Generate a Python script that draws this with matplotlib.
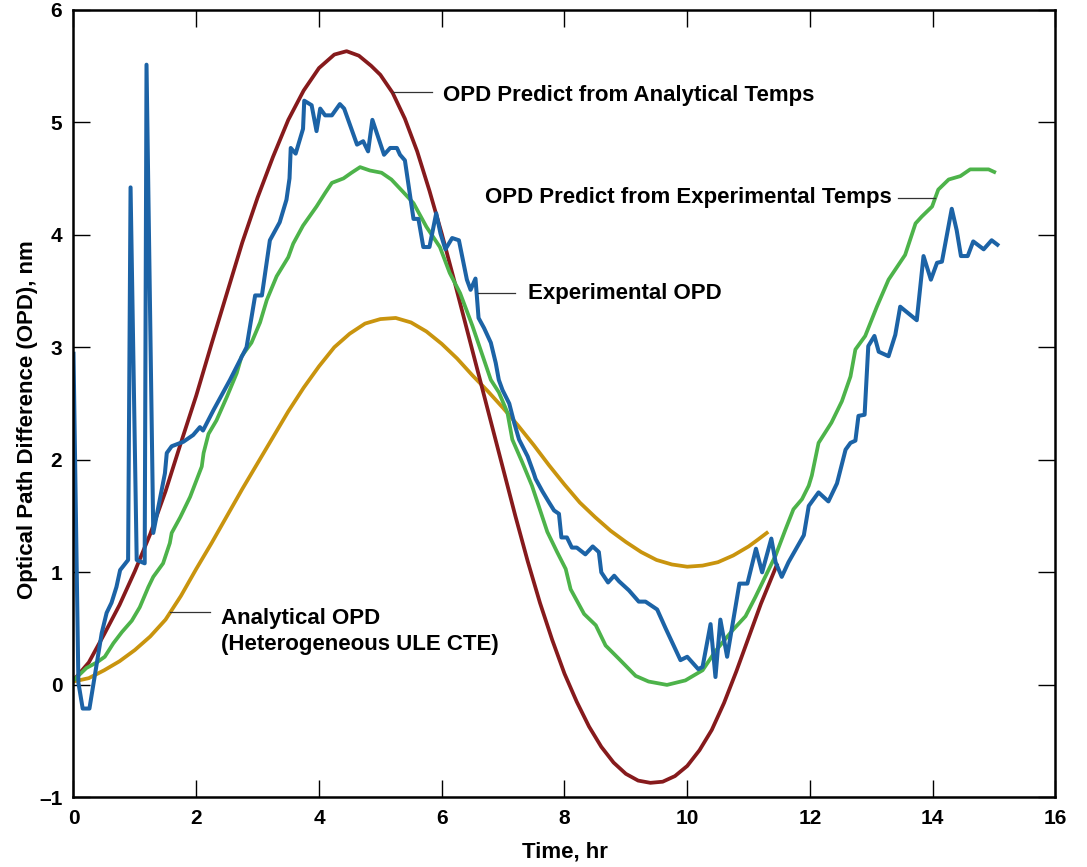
import matplotlib
matplotlib.use("Agg")
import matplotlib.pyplot as plt

plt.rcParams["font.family"] = ["Liberation Sans", "DejaVu Sans"]
plt.rcParams["font.weight"] = "bold"

BLUE = "#1c63a6"
GREEN = "#4db34a"
RED = "#861a1c"
GOLD = "#c9940e"

# Experimental OPD (measured)
exp_t = [0.0, 0.08, 0.15, 0.26, 0.46, 0.54, 0.62, 0.7, 0.76, 0.89, 0.93, 1.03, 1.16, 1.19, 1.30,
         1.49, 1.52, 1.6, 1.79, 1.95, 2.06, 2.11, 2.28, 2.55, 2.82, 2.96, 3.07, 3.2, 3.36, 3.47,
         3.52, 3.54, 3.62, 3.74, 3.76, 3.88, 3.96, 4.02, 4.1, 4.21, 4.34, 4.41, 4.62, 4.72,
         4.8, 4.87, 5.06, 5.16, 5.27, 5.32, 5.4, 5.54, 5.62, 5.7, 5.8, 5.91, 5.98, 6.06,
         6.17, 6.28, 6.41, 6.47, 6.55, 6.6, 6.69, 6.8, 6.88, 6.93, 6.99, 7.1, 7.18, 7.26,
         7.4, 7.5, 7.53, 7.64, 7.75, 7.83, 7.91, 7.95, 8.04, 8.12, 8.2, 8.34, 8.46, 8.56,
         8.6, 8.71, 8.81, 8.89, 8.97, 9.05, 9.21, 9.32, 9.51, 9.65, 9.89, 10.0, 10.18, 10.25,
         10.38, 10.46, 10.54, 10.65, 10.85, 10.98, 11.12, 11.22, 11.37, 11.44, 11.54, 11.65,
         11.9, 11.98, 12.14, 12.3, 12.44, 12.58, 12.66, 12.74, 12.79, 12.89, 12.95, 13.05,
         13.12, 13.28, 13.39, 13.47, 13.74, 13.85, 13.97, 14.07, 14.15, 14.31, 14.39, 14.46,
         14.57, 14.66, 14.83, 14.96, 15.08]
exp_opd = [2.96, 0.02, -0.21, -0.21, 0.46, 0.64, 0.73, 0.87, 1.02, 1.11, 4.42, 1.11, 1.08, 5.51, 1.35,
           1.88, 2.06, 2.12, 2.16, 2.22, 2.29, 2.26, 2.44, 2.71, 3.0, 3.46, 3.46, 3.95, 4.11, 4.31,
           4.5, 4.77, 4.72, 4.94, 5.19, 5.15, 4.92, 5.12, 5.06, 5.06, 5.16, 5.12, 4.8, 4.83,
           4.74, 5.02, 4.71, 4.77, 4.77, 4.71, 4.66, 4.14, 4.14, 3.89, 3.89, 4.19, 4.01, 3.87,
           3.97, 3.95, 3.6, 3.51, 3.61, 3.26, 3.17, 3.04, 2.86, 2.71, 2.62, 2.5, 2.33, 2.18,
           2.03, 1.88, 1.83, 1.72, 1.62, 1.55, 1.52, 1.31, 1.31, 1.22, 1.22, 1.16, 1.23, 1.18,
           1.0, 0.91, 0.97, 0.92, 0.88, 0.84, 0.74, 0.74, 0.67, 0.5, 0.22, 0.25, 0.14, 0.16,
           0.54, 0.07, 0.58, 0.25, 0.9, 0.9, 1.21, 1.0, 1.3, 1.09, 0.96, 1.09,
           1.33, 1.59, 1.71, 1.63, 1.79, 2.09, 2.15, 2.17, 2.39, 2.4, 3.01, 3.1,
           2.96, 2.92, 3.11, 3.36, 3.24, 3.81, 3.6, 3.75, 3.76, 4.23, 4.04, 3.81,
           3.81, 3.94, 3.87, 3.95, 3.9]

# OPD predicted from experimental temperatures
pexp_t = [0.0, 0.21, 0.38, 0.51, 0.65, 0.79, 0.95, 1.08, 1.22, 1.3, 1.46, 1.57, 1.6, 1.74, 1.9,
          2.09, 2.12, 2.2, 2.33, 2.5, 2.66, 2.74, 2.9, 3.04, 3.15, 3.31, 3.5, 3.58, 3.74, 3.96,
          4.1, 4.21, 4.4, 4.53, 4.67, 4.83, 5.02, 5.18, 5.37, 5.54, 5.75, 5.97, 6.13, 6.3,
          6.5, 6.65, 6.8, 6.93, 7.07, 7.15, 7.31, 7.47, 7.58, 7.72, 7.88, 8.02, 8.1, 8.32,
          8.51, 8.67, 8.89, 9.16, 9.37, 9.67, 9.97, 10.25, 10.46, 10.73, 10.95, 11.11, 11.27,
          11.44, 11.6, 11.73, 11.87, 11.98, 12.03, 12.14, 12.35, 12.52, 12.66, 12.74, 12.9,
          13.09, 13.28, 13.55, 13.72, 13.82, 13.99, 14.09, 14.26, 14.45, 14.61, 14.8, 14.91,
          15.03]
pexp_opd = [0.04, 0.15, 0.2, 0.25, 0.37, 0.47, 0.57, 0.69, 0.87, 0.96, 1.08, 1.26, 1.35, 1.49, 1.67,
            1.94, 2.06, 2.23, 2.35, 2.56, 2.77, 2.92, 3.04, 3.22, 3.42, 3.63, 3.8, 3.92, 4.08, 4.25,
            4.37, 4.46, 4.5, 4.55, 4.6, 4.57, 4.55, 4.49, 4.38, 4.28, 4.07, 3.89, 3.66, 3.48,
            3.19, 2.95, 2.71, 2.6, 2.42, 2.18, 1.98, 1.77, 1.59, 1.36, 1.18, 1.03, 0.85, 0.63,
            0.53, 0.35, 0.23, 0.08, 0.03, 0.0, 0.04, 0.13, 0.3, 0.48, 0.61, 0.78, 0.96,
            1.15, 1.38, 1.56, 1.65, 1.77, 1.86, 2.15, 2.33, 2.52, 2.74, 2.98, 3.1,
            3.36, 3.6, 3.82, 4.1, 4.16, 4.25, 4.4, 4.49, 4.52, 4.58, 4.58, 4.58,
            4.55]

# OPD predicted from analytical temperatures
pana_t = [0.0, 0.25, 0.5, 0.75, 1.0, 1.25, 1.5, 1.75, 2.0, 2.25, 2.5, 2.75, 3.0, 3.25, 3.5,
          3.75, 4.0, 4.25, 4.45, 4.65, 4.85, 5.0, 5.2, 5.4, 5.6, 5.8, 6.0, 6.2, 6.4, 6.6,
          6.8, 7.0, 7.2, 7.4, 7.6, 7.8, 8.0, 8.2, 8.4, 8.6, 8.8, 9.0, 9.2, 9.4, 9.6, 9.8,
          10.0, 10.2, 10.4, 10.6, 10.8, 11.0, 11.2, 11.47]
pana_opd = [0.04, 0.2, 0.45, 0.71, 1.01, 1.34, 1.72, 2.15, 2.57, 3.03, 3.48, 3.93, 4.33, 4.69, 5.02,
            5.28, 5.48, 5.6, 5.63, 5.59, 5.5, 5.42, 5.26, 5.03, 4.74, 4.39, 4.01, 3.6, 3.18, 2.76,
            2.34, 1.92, 1.5, 1.1, 0.73, 0.4, 0.1, -0.15, -0.37, -0.55, -0.69, -0.79, -0.85, -0.87,
            -0.86, -0.81, -0.72, -0.58, -0.4, -0.16, 0.12, 0.42, 0.72, 1.08]

# Analytical OPD (heterogeneous ULE CTE)
ana_t = [0.0, 0.25, 0.5, 0.75, 1.0, 1.25, 1.5, 1.75, 2.0, 2.25, 2.5, 2.75, 3.0, 3.25, 3.5,
         3.75, 4.0, 4.25, 4.5, 4.75, 5.0, 5.25, 5.5, 5.75, 6.0, 6.25, 6.5, 6.75, 7.0, 7.25,
         7.5, 7.75, 8.0, 8.25, 8.5, 8.75, 9.0, 9.25, 9.5, 9.75, 10.0, 10.25, 10.5, 10.75,
         11.0, 11.15, 11.32]
ana_opd = [0.03, 0.06, 0.13, 0.21, 0.31, 0.43, 0.58, 0.79, 1.03, 1.26, 1.5, 1.74, 1.97, 2.2, 2.43,
           2.64, 2.83, 3.0, 3.12, 3.21, 3.25, 3.26, 3.22, 3.14, 3.03, 2.9, 2.75, 2.61, 2.46, 2.3,
           2.13, 1.95, 1.78, 1.62, 1.49, 1.37, 1.27, 1.18, 1.11, 1.07, 1.05, 1.06, 1.09, 1.15,
           1.23, 1.29, 1.36]

x_ticks = [0, 2, 4, 6, 8, 10, 12, 14, 16]
y_ticks = [-1, 0, 1, 2, 3, 4, 5, 6]
y_tick_labels = ["\u20131", "0", "1", "2", "3", "4", "5", "6"]

fig = plt.figure(figsize=(10.87, 8.67), dpi=100)
ax = fig.add_axes([0.0676, 0.0802, 0.9034, 0.9088])

line_kw = dict(solid_joinstyle="round", solid_capstyle="butt")
ax.plot(ana_t, ana_opd, color=GOLD, linewidth=2.7, **line_kw)
ax.plot(pana_t, pana_opd, color=RED, linewidth=2.7, **line_kw)
ax.plot(pexp_t, pexp_opd, color=GREEN, linewidth=2.7, **line_kw)
ax.plot(exp_t, exp_opd, color=BLUE, linewidth=2.9, **line_kw)

# annotations with short leader lines
lead = dict(color="#333333", linewidth=0.9)
text_kw = dict(fontsize=16, fontweight="bold", va="center")
ax.plot([5.21, 5.84], [5.27, 5.27], **lead)
ax.text(6.02, 5.24, "OPD Predict from Analytical Temps", ha="left", **text_kw)
ax.plot([13.43, 14.04], [4.33, 4.33], **lead)
ax.text(13.33, 4.33, "OPD Predict from Experimental Temps", ha="right", **text_kw)
ax.plot([6.59, 7.19], [3.48, 3.48], **lead)
ax.text(7.4, 3.48, "Experimental OPD", ha="left", **text_kw)
ax.plot([1.57, 2.22], [0.65, 0.65], **lead)
ax.text(2.4, 0.475, "Analytical OPD\n(Heterogeneous ULE CTE)", ha="left", linespacing=1.27, **text_kw)

ax.set_xlim(0, 16)
ax.set_ylim(-1, 6)
ax.set_xticks(x_ticks)
ax.set_yticks(y_ticks)
ax.set_yticklabels(y_tick_labels)
ax.tick_params(direction="in", length=12.5, width=1.0, top=True, right=True,
               labelsize=15, pad=8)
for label in ax.get_xticklabels() + ax.get_yticklabels():
    label.set_fontweight("bold")
for spine in ax.spines.values():
    spine.set_linewidth(1.8)

ax.set_xlabel("Time, hr", fontsize=16, fontweight="bold", labelpad=10)
ax.set_ylabel("Optical Path Difference (OPD), nm", fontsize=16, fontweight="bold")
ax.yaxis.set_label_coords(-0.036, 0.48)

fig.savefig("out.png", dpi=100, facecolor="white")
